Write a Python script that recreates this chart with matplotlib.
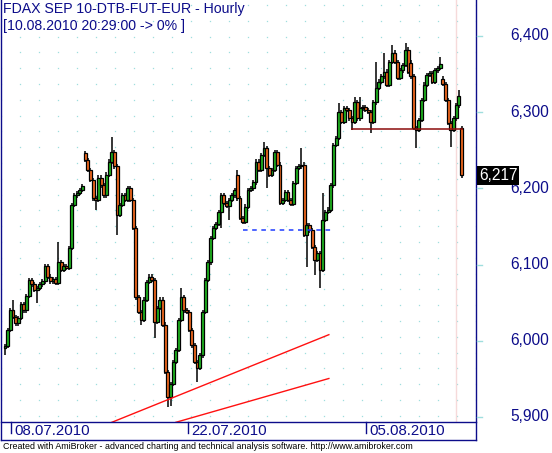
import matplotlib
matplotlib.use("Agg")
import matplotlib.pyplot as plt
from matplotlib.patches import Rectangle
from matplotlib.lines import Line2D

# hourly closes (bar 0 = first bar on the left)
closes = [
    5993, 6014, 6040, 6031, 6023, 6030, 6048, 6040, 6059, 6080,
    6074, 6067, 6069, 6074, 6078, 6098, 6084, 6078, 6081, 6076,
    6103, 6093, 6098, 6096, 6122, 6178, 6191, 6194, 6198, 6203,
    6237, 6224, 6211, 6187, 6185, 6214, 6204, 6191, 6218, 6235,
    6248, 6229, 6165, 6178, 6191, 6185, 6200, 6185, 6148, 6057,
    6038, 6027, 6054, 6077, 6084, 6080, 6025, 6043, 6054, 6021,
    5959, 5926, 5943, 5972, 5988, 6027, 6057, 6040, 6038, 6014,
    5994, 5972, 5964, 5981, 6038, 6080, 6103, 6135, 6148, 6153,
    6169, 6191, 6181, 6177, 6185, 6191, 6198, 6187, 6161, 6156,
    6176, 6198, 6200, 6208, 6235, 6224, 6244, 6253, 6227, 6218,
    6224, 6248, 6231, 6181, 6185, 6195, 6185, 6180, 6207, 6227,
    6229, 6231, 6139, 6152, 6145, 6123, 6106, 6115, 6093, 6159,
    6169, 6172, 6204, 6257, 6266, 6300, 6287, 6305, 6303, 6292,
    6287, 6313, 6292, 6305, 6307, 6303, 6300, 6287, 6313, 6332,
    6340, 6347, 6353, 6336, 6366, 6378, 6366, 6345, 6355, 6362,
    6382, 6353, 6347, 6279, 6277, 6290, 6316, 6336, 6349, 6351,
    6340, 6355, 6358, 6363, 6337, 6316, 6286, 6277, 6292, 6309,
    6321, 6217,
]
# bars that opened away from the previous close
gap_opens = {0: 5990, 30: 6246, 87: 6218, 152: 6365, 164: 6344, 171: 6279}
# longer wicks
highs = {3: 6054, 20: 6130, 30: 6249, 40: 6267, 66: 6069, 87: 6224, 97: 6261,
         111: 6253, 119: 6194, 125: 6312, 131: 6320, 133: 6320, 139: 6366,
         142: 6378, 145: 6388, 150: 6391, 163: 6372, 170: 6329}
lows = {0: 5981, 12: 6050, 34: 6172, 42: 6139, 51: 6021, 56: 6004, 61: 5913,
        62: 5915, 72: 5946, 81: 6148, 84: 6159, 98: 6200, 113: 6097,
        116: 6086, 118: 6069, 130: 6277, 137: 6273, 154: 6253, 167: 6254}

date_pos = [2.2, 68.5, 135.2]
date_labels = ["08.07.2010", "22.07.2010", "05.08.2010"]
price_ticks = [5900, 6000, 6100, 6200, 6300, 6400]
price_labels = ["5,900", "6,000", "6,100", "6,200", "6,300", "6,400"]
last_price = "6,217"

# drawn studies: (x0, x1, level)
support = (129.5, 171.6, 6277.6)
dashed_level = (89.0, 122.0, 6145)
trend_a = ([40.0, 121.3], [5893, 6008])
trend_b = ([64.0, 121.3], [5893, 5950.5])
selected_bar = 169

navy = "#0c0c8a"
up_col = "#1fb51f"
down_col = "#f46a1e"
dot_col = "#9fdede"

W, H = 552, 453
fig = plt.figure(figsize=(W / 100, H / 100), dpi=100)
plt.rcParams["font.family"] = ["Liberation Sans", "DejaVu Sans"]


def fx(px):
    return px / W


def fy(py):
    return 1 - py / H


ax = fig.add_axes([fx(1), fy(422), (476 - 1) / W, 422 / H])
ax.set_xlim(-1.5, 176.4)
ax.set_ylim(5893.4, 6447.2)
for s in ax.spines.values():
    s.set_visible(False)
ax.set_xticks([])
ax.set_yticks([])

# background dot lattice
gx = [i / 25.0 for i in range(26)]
for row in range(27):
    yy = 1 - (row * 15.8 + 5) / 422
    ax.plot(gx, [yy] * len(gx), ls="none", marker="s", ms=0.9, mew=0,
            color=dot_col, transform=ax.transAxes, zorder=0)

# selected bar marker
ax.axvline(selected_bar, color="#f6dada", lw=1.0, zorder=1)

# candles
prev = None
for i, c in enumerate(closes):
    o = gap_opens.get(i, prev if prev is not None else c)
    top, bot = max(o, c), min(o, c)
    hi = highs.get(i, top + 3)
    lo = lows.get(i, bot - 3)
    ax.vlines(i, lo, hi, color="black", lw=1.1, zorder=2)
    col = up_col if c >= o else down_col
    ax.add_patch(Rectangle((i - 0.55, bot), 1.1, max(top - bot, 1.5),
                           facecolor=col, edgecolor="black", lw=0.9, zorder=3))
    prev = c

# studies
ax.hlines(support[2], support[0], support[1], color="#8c0c0c", lw=1.1, zorder=4)
ax.hlines(dashed_level[2], dashed_level[0], dashed_level[1], color="#1e3cff",
          lw=1.1, linestyles=(0, (3, 3)), zorder=4)
ax.plot(trend_a[0], trend_a[1], color="#ff1010", lw=1.0, zorder=4)
ax.plot(trend_b[0], trend_b[1], color="#ff1010", lw=1.0, zorder=4)

# frame lines
frame = [((1, 1), (0, 440)), ((476, 476), (0, 440)),
         ((1, 476), (422, 422)), ((1, 476), (440, 440))]
for xs, ys in frame:
    fig.add_artist(Line2D([fx(x) for x in xs], [fy(y) for y in ys],
                          color=navy, lw=1.0))

# date axis
for p, lab in zip(date_pos, date_labels):
    xp = ax.transData.transform((p, 0))[0]
    fig.add_artist(Line2D([xp / W, xp / W], [fy(422), fy(433)], color=navy, lw=1.0))
    fig.text((xp + 3) / W, fy(431), lab, color=navy, fontsize=10.8,
             ha="left", va="center")

# price axis
for v, lab in zip(price_ticks, price_labels):
    yp = ax.transData.transform((0, v))[1]
    fig.add_artist(Line2D([fx(477), fx(482)], [yp / H, yp / H], color=dot_col, lw=1.0))
    fig.text(fx(549), yp / H, lab, color=navy, fontsize=11.2, ha="right", va="center")

yp = ax.transData.transform((0, 6217))[1]
fig.text(fx(479), yp / H, last_price, color="white", fontsize=11.2, ha="left",
         va="center", bbox=dict(facecolor="black", edgecolor="none",
                                boxstyle="square,pad=0.12"))

# titles
fig.text(fx(3), fy(2), "FDAX SEP 10-DTB-FUT-EUR - Hourly", color=navy,
         fontsize=10.2, ha="left", va="top")
fig.text(fx(3), fy(19), "[10.08.2010 20:29:00 -> 0% ]", color=navy,
         fontsize=10.2, ha="left", va="top")
fig.text(fx(3), fy(446.5),
         "Created with AmiBroker - advanced charting and technical analysis software. http://www.amibroker.com",
         color="black", fontsize=6.4, ha="left", va="center")

fig.savefig("out.png", dpi=100)
